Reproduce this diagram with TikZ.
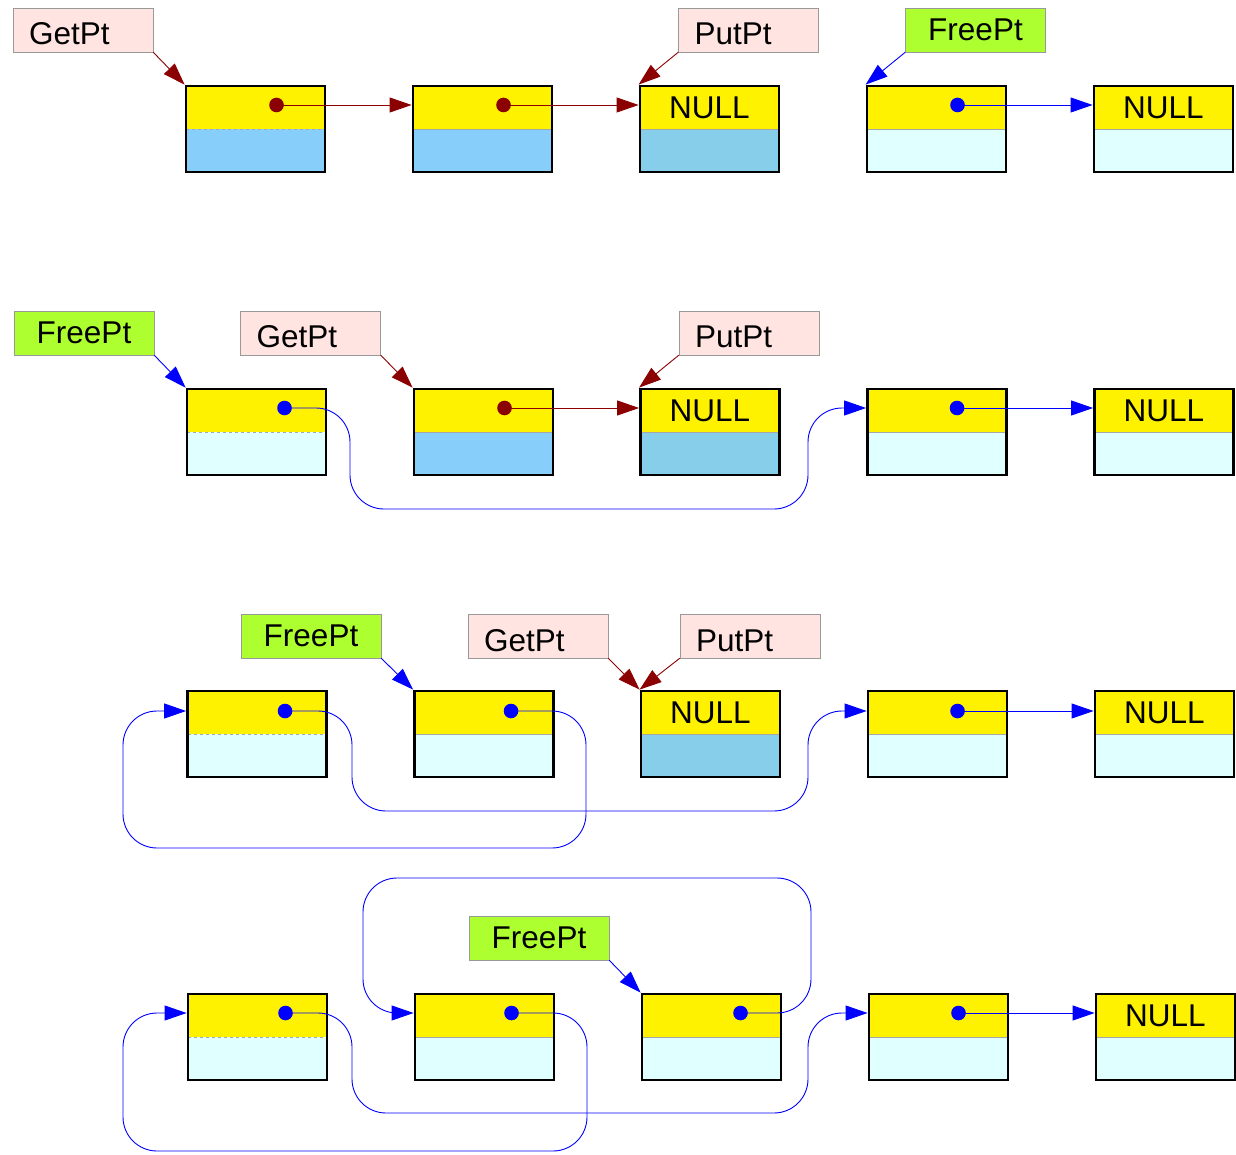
\documentclass[tikz,border=0pt]{standalone}
\usepackage{fontspec}
\setmainfont{Liberation Sans}
\usetikzlibrary{arrows.meta, calc}

\definecolor{lsky}{HTML}{87CEFA}
\definecolor{nullsky}{HTML}{87CEEB}
\definecolor{lcyan}{HTML}{E0FFFF}
\definecolor{pinklab}{HTML}{FFE4E1}
\definecolor{greenlab}{HTML}{ADFF2F}
\definecolor{ptrred}{HTML}{8B0000}
\definecolor{ptrblue}{HTML}{0000FF}

\begin{document}
\begin{tikzpicture}[x=1pt, y=-1pt,
  txt/.style={font=\fontsize{31.5}{36}\selectfont},
  divline/.style={black!35, line width=0.8pt},
  headcell/.style={divline/.append style={dashed}},
  cell/.style={draw, line width=2.8pt, minimum width=139pt, minimum height=86pt,
    inner sep=0pt, fill=#1,
    path picture={
      \fill[yellow] (path picture bounding box.north west) rectangle (path picture bounding box.east);
      \draw[divline] (path picture bounding box.west) -- (path picture bounding box.east);}},
  reglab/.style={draw=black!40, fill=pinklab, minimum height=44pt, text width=108pt,
    inner xsep=16pt, align=left, text height=30pt, text depth=0pt, txt},
  freelab/.style={draw=black!40, fill=greenlab, minimum width=140pt, minimum height=44pt, txt},
  nulltxt/.style={txt, inner sep=0pt},
  rptr/.style={ptrred, line width=0.9pt, -{Triangle[length=22pt,width=15pt]}},
  bptr/.style={ptrblue, line width=0.9pt, -{Triangle[length=22pt,width=15pt]}},
  loop/.style={bptr, rounded corners=34pt}
]
\useasboundingbox (0,0) rectangle (1236,1155);

% Row 1
\node[cell=lsky, headcell] (r1a) at (255.5,129) {};
\node[cell=lsky] (r1b) at (482.5,129) {};
\node[cell=nullsky] (r1c) at (709.5,129) {};
\node[cell=lcyan] (r1d) at (936.5,129) {};
\node[cell=lcyan] (r1e) at (1163.5,129) {};
\node[nulltxt] (n1c) at ([yshift=21pt]r1c.center) {NULL};
\node[nulltxt] (n1e) at ([yshift=21pt]r1e.center) {NULL};
\node[reglab] (get1) at (83,30) {GetPt};
\node[reglab] (put1) at (748.5,30) {PutPt};
\node[freelab] (free1) at (975.5,30) {FreePt};
\coordinate (p1a) at ([shift={(21,-24)}]r1a.center);
\coordinate (p1b) at ([shift={(21,-24)}]r1b.center);
\coordinate (p1d) at ([shift={(21,-24)}]r1d.center);
\draw[rptr] (get1.south east) -- (r1a.north west);
\draw[rptr] (put1.south west) -- (r1c.north west);
\draw[bptr] (free1.south west) -- (r1d.north west);
\draw[rptr] (p1a) -- (p1a -| r1b.west);
\draw[rptr] (p1b) -- (p1b -| r1c.west);
\draw[bptr] (p1d) -- (p1d -| r1e.west);
\fill[ptrred] (p1a) circle (7.3pt) (p1b) circle (7.3pt);
\fill[ptrblue] (p1d) circle (7.3pt);

% Row 2
\node[cell=lcyan, headcell] (r2a) at (256.5,432) {};
\node[cell=lsky] (r2b) at (483.5,432) {};
\node[cell=nullsky] (r2c) at (710,432) {};
\node[cell=lcyan] (r2d) at (937,432) {};
\node[cell=lcyan] (r2e) at (1164,432) {};
\node[nulltxt] (n2c) at ([yshift=21pt]r2c.center) {NULL};
\node[nulltxt] (n2e) at ([yshift=21pt]r2e.center) {NULL};
\node[freelab] (free2) at (84,333) {FreePt};
\node[reglab] (get2) at (310.5,333) {GetPt};
\node[reglab] (put2) at (749,333) {PutPt};
\coordinate (p2a) at ([shift={(28,-24)}]r2a.center);
\coordinate (p2b) at ([shift={(21,-24)}]r2b.center);
\coordinate (p2d) at ([shift={(20,-24)}]r2d.center);
\draw[bptr] (free2.south east) -- (r2a.north west);
\draw[rptr] (get2.south east) -- (r2b.north west);
\draw[rptr] (put2.south west) -- (r2c.north west);
\draw[loop] (p2a) -- (350,408) -- (350,509) -- (808,509) -- (808,408) -- (p2a -| r2d.west);
\draw[rptr] (p2b) -- (p2b -| r2c.west);
\draw[bptr] (p2d) -- (p2d -| r2e.west);
\fill[ptrred] (p2b) circle (7.3pt);
\fill[ptrblue] (p2a) circle (7.3pt) (p2d) circle (7.3pt);

% Row 3
\node[cell=lcyan, headcell] (r3a) at (257,734) {};
\node[cell=lcyan] (r3b) at (484,734) {};
\node[cell=nullsky] (r3c) at (710.5,734) {};
\node[cell=lcyan] (r3d) at (937.5,734) {};
\node[cell=lcyan] (r3e) at (1164.5,734) {};
\node[nulltxt] (n3c) at ([yshift=21pt]r3c.center) {NULL};
\node[nulltxt] (n3e) at ([yshift=21pt]r3e.center) {NULL};
\node[freelab] (free3) at (311,636) {FreePt};
\node[reglab] (get3) at (538,636) {GetPt};
\node[reglab] (put3) at (750,636) {PutPt};
\coordinate (p3a) at ([shift={(28,-23)}]r3a.center);
\coordinate (p3b) at ([shift={(27,-23)}]r3b.center);
\coordinate (p3d) at ([shift={(20,-23)}]r3d.center);
\draw[bptr] (free3.south east) -- (r3b.north west);
\draw[rptr] (get3.south east) -- (r3c.north west);
\draw[rptr] (put3.south west) -- (r3c.north west);
\draw[loop] (p3a) -- (352,711) -- (352,811) -- (808,811) -- (808,711) -- (p3a -| r3d.west);
\draw[loop] (p3b) -- (586,711) -- (586,848) -- (123,848) -- (123,711) -- (p3b -| r3a.west);
\draw[bptr] (p3d) -- (p3d -| r3e.west);
\fill[ptrblue] (p3a) circle (7.3pt) (p3b) circle (7.3pt) (p3d) circle (7.3pt);

% Row 4
\node[cell=lcyan, headcell] (r4a) at (257.5,1037) {};
\node[cell=lcyan] (r4b) at (484.5,1037) {};
\node[cell=lcyan] (r4c) at (711.5,1037) {};
\node[cell=lcyan] (r4d) at (938.5,1037) {};
\node[cell=lcyan] (r4e) at (1165.5,1037) {};
\node[nulltxt] (n4e) at ([yshift=21pt]r4e.center) {NULL};
\node[freelab] (free4) at (539,938) {FreePt};
\coordinate (p4a) at ([shift={(28,-24)}]r4a.center);
\coordinate (p4b) at ([shift={(27,-24)}]r4b.center);
\coordinate (p4c) at ([shift={(29,-24)}]r4c.center);
\coordinate (p4d) at ([shift={(20,-24)}]r4d.center);
\draw[bptr] (free4.south east) -- (r4c.north west);
\draw[loop] (p4a) -- (352,1013) -- (352,1113) -- (808,1113) -- (808,1013) -- (p4a -| r4d.west);
\draw[loop] (p4b) -- (587,1013) -- (587,1151) -- (123,1151) -- (123,1013) -- (p4b -| r4a.west);
\draw[loop] (p4c) -- (811,1013) -- (811,878) -- (363,878) -- (363,1013) -- (p4c -| r4b.west);
\draw[bptr] (p4d) -- (p4d -| r4e.west);
\fill[ptrblue] (p4a) circle (7.3pt) (p4b) circle (7.3pt) (p4c) circle (7.3pt) (p4d) circle (7.3pt);
\end{tikzpicture}
\end{document}
